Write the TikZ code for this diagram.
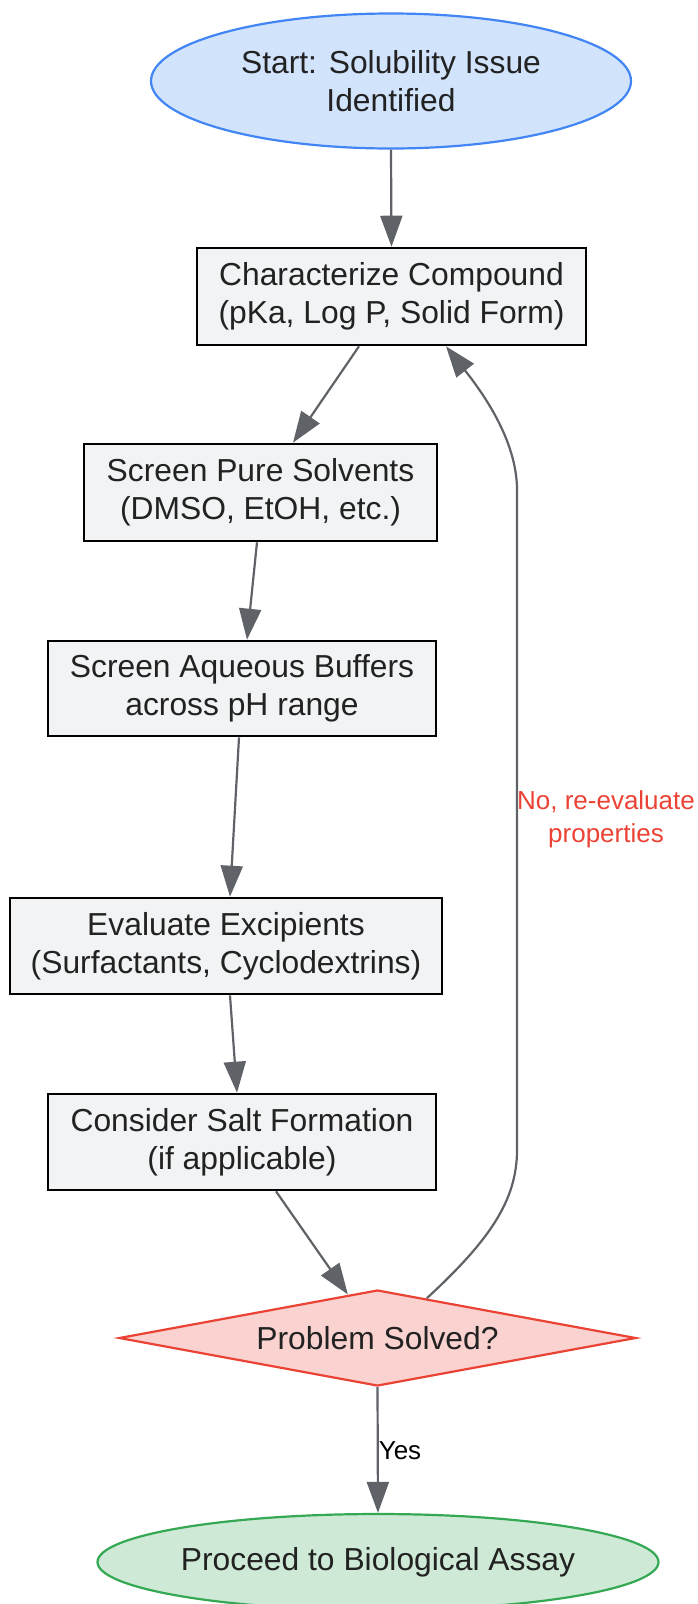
\documentclass[tikz,border=0pt]{standalone}
\usepackage{fontspec}
\setmainfont{Liberation Sans}
\usetikzlibrary{arrows.meta,shapes.geometric,calc}
\definecolor{startfill}{HTML}{D2E3FC}
\definecolor{startdraw}{HTML}{4285F4}
\definecolor{boxfill}{HTML}{F1F3F4}
\definecolor{boxdraw}{HTML}{000000}
\definecolor{diafill}{HTML}{FAD2CF}
\definecolor{diadraw}{HTML}{EA4335}
\definecolor{endfill}{HTML}{CEEAD6}
\definecolor{enddraw}{HTML}{34A853}
\definecolor{arrowcol}{HTML}{5F6368}
\definecolor{txt}{HTML}{222222}
\definecolor{nolabel}{HTML}{EA4335}
\tikzset{
  nodefont/.style={font=\fontsize{31.8}{38}\selectfont, text=txt, align=center, inner sep=0pt},
  stepbox/.style={nodefont, rectangle, draw=boxdraw, fill=boxfill, line width=2.6pt},
  startnode/.style={nodefont, ellipse, draw=startdraw, fill=startfill, line width=2.2pt},
  endnode/.style={nodefont, ellipse, draw=enddraw, fill=endfill, line width=2.2pt},
  decision/.style={nodefont, diamond, draw=diadraw, fill=diafill, line width=2.2pt},
  conn/.style={draw=arrowcol, line width=2.2pt, -{Triangle[length=31pt,width=22pt]}},
  edgelabel/.style={font=\fontsize{26}{33}\selectfont, align=center, inner sep=0pt}
}
\begin{document}
\begin{tikzpicture}[x=1pt,y=-1pt]
\clip (0,0) rectangle (697,1604);
\node[startnode, minimum width=480pt, minimum height=135pt] (start) at (391,81) {Start: Solubility Issue\\Identified};
\node[stepbox, minimum width=389pt, minimum height=97pt] (char) at (391.5,296.5) {Characterize Compound\\(pKa, Log P, Solid Form)};
\node[stepbox, minimum width=353pt, minimum height=97pt] (pure) at (260.5,492.5) {Screen Pure Solvents\\(DMSO, EtOH, etc.)};
\node[stepbox, minimum width=388pt, minimum height=95pt] (aq) at (242,688.5) {Screen Aqueous Buffers\\across pH range};
\node[stepbox, minimum width=432pt, minimum height=96pt] (eval) at (226,946) {Evaluate Excipients\\(Surfactants, Cyclodextrins)};
\node[stepbox, minimum width=388pt, minimum height=96pt] (salt) at (242,1142) {Consider Salt Formation\\(if applicable)};
\node[decision, shape aspect=5.3, minimum width=517pt, minimum height=96pt] (diam) at (377.5,1338) {Problem Solved?};
\node[endnode, minimum width=561pt, minimum height=96pt] (proc) at (378,1562) {Proceed to Biological Assay};

\draw[conn] (start.south) -- (char.north);
\draw[conn] ([xshift=-32.5pt]char.south) -- ([xshift=32.5pt]pure.north);
\draw[conn] ([xshift=-3.5pt]pure.south) -- ([xshift=5pt]aq.north);
\draw[conn] ([xshift=-3pt]aq.south) -- ([xshift=4pt]eval.north);
\draw[conn] ([xshift=4pt]eval.south) -- ([xshift=-5pt]salt.north);
\draw[conn] ([xshift=34pt]salt.south) -- ($(diam.north)!0.114!(diam.west)$);

\coordinate (bk1) at (517,1150);
\coordinate (bk2) at (517,490);
\draw[conn] ($(diam.north)!0.19!(diam.east)$) .. controls (490,1240) and (517,1200) .. (bk1)
  -- (bk2) .. controls (517,440) and (482,392) .. ([xshift=54.5pt]char.south);
\node[edgelabel, text=nolabel] (nolab) at (606,819) {No, re-evaluate\\properties};

\draw[conn] (diam.south) -- (proc.north);
\node[edgelabel, text=black] (yes) at (400,1451) {Yes};
\end{tikzpicture}
\end{document}
